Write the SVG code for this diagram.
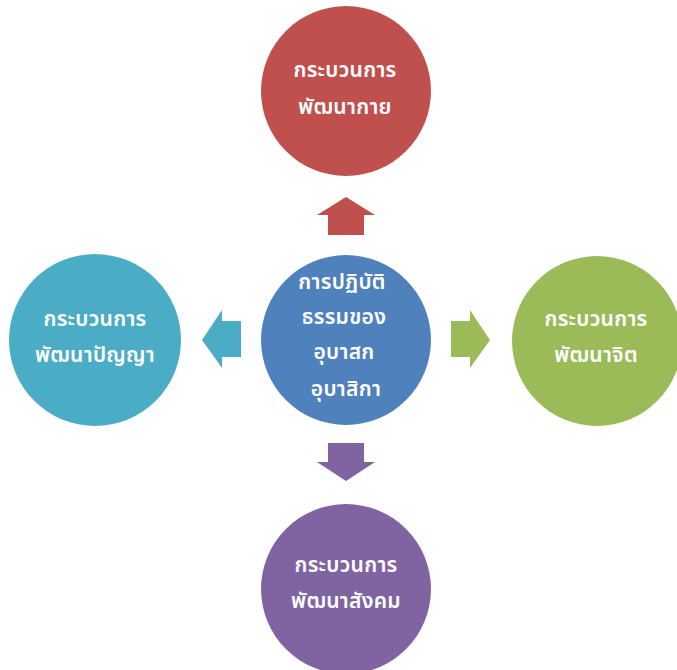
<svg xmlns="http://www.w3.org/2000/svg" width="677" height="670" viewBox="0 0 677 670">
<style>
.t{font-family:"Noto Sans Thai","Noto Sans","DejaVu Sans",sans-serif;font-size:21px;fill:#ffffff;text-anchor:middle;font-weight:600;letter-spacing:0.3px}
</style>
<rect width="677" height="670" fill="#ffffff"/>
<g id="connectors">
<polygon points="346,197 375,215 364,215 364,235 328,235 328,215 317,215" fill="#C0504D"/>
<polygon points="346,481 375,462 364,462 364,443 328,443 328,462 317,462" fill="#8064A2"/>
<polygon points="202,340 222,310 222,321 241,321 241,357 222,357 222,368" fill="#4BACC6"/>
<polygon points="490,340 470,310 470,321 451,321 451,357 470,357 470,368" fill="#9BBB59"/>
</g>
<g id="center">
<circle cx="346" cy="340" r="85" fill="#4F81BD"/>
<text class="t" x="342" y="289">การปฏิบัติ</text>
<text class="t" x="344" y="324">ธรรมของ</text>
<text class="t" x="344" y="359">อุบาสก</text>
<text class="t" x="346" y="396">อุบาสิกา</text>
</g>
<g id="top">
<circle cx="346" cy="91" r="85" fill="#C0504D"/>
<text class="t" x="345" y="77">กระบวนการ</text>
<text class="t" x="345" y="114">พัฒนากาย</text>
</g>
<g id="left">
<circle cx="95" cy="340" r="86" fill="#4BACC6"/>
<text class="t" x="95" y="326">กระบวนการ</text>
<text class="t" x="95" y="362">พัฒนาปัญญา</text>
</g>
<g id="right">
<circle cx="597" cy="341" r="85" fill="#9BBB59"/>
<text class="t" x="596" y="326">กระบวนการ</text>
<text class="t" x="596" y="362">พัฒนาจิต</text>
</g>
<g id="bottom">
<circle cx="346" cy="589" r="85" fill="#8064A2"/>
<text class="t" x="346" y="572">กระบวนการ</text>
<text class="t" x="346" y="608">พัฒนาสังคม</text>
</g>
</svg>
